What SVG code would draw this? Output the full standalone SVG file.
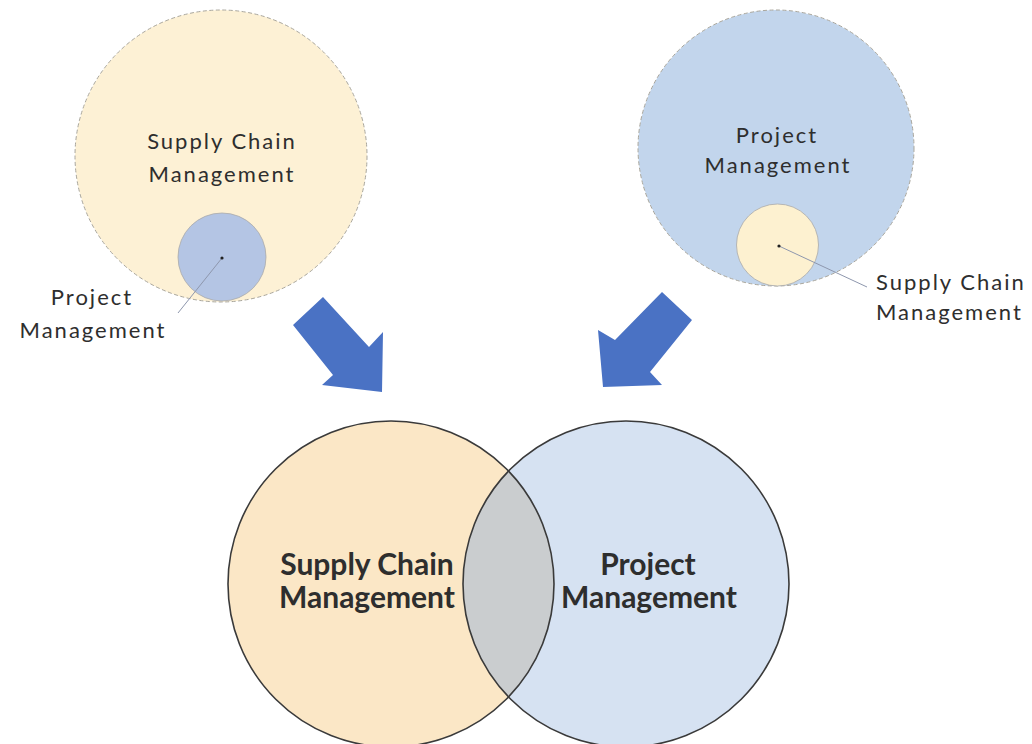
<svg xmlns="http://www.w3.org/2000/svg" width="1032" height="744" viewBox="0 0 1032 744">
  <style>
    .lbl { font-family: "Lato", "Open Sans", "Liberation Sans", sans-serif; fill: #2e2e2e; }
    .sm { font-size: 22px; letter-spacing: 2px; }
    .big { font-size: 30px; font-weight: 700; }
    .mid { text-anchor: middle; }
    .outer { stroke: #a9a69c; stroke-width: 1; stroke-dasharray: 4 2.5; }
    .inner { stroke: #a9a9a9; stroke-width: 0.8; }
    .venn { stroke: #3a3a3a; stroke-width: 1.6; }
    .leader { stroke: #8e97ad; stroke-width: 1; fill: none; }
    .dot { fill: #222; }
    .block { fill: #4a72c4; }
  </style>

  <rect width="1032" height="744" fill="#ffffff"/>

  <!-- Supply chain circle containing project management -->
  <g id="scm-contains-pm">
    <circle cx="221" cy="156" r="146" fill="#fdf1d5" class="outer"/>
    <text class="lbl sm mid" x="222" y="149">Supply Chain</text>
    <text class="lbl sm mid" x="222" y="182">Management</text>
  </g>
  <g id="pm-inner">
    <circle cx="222" cy="257" r="44" fill="#b4c5e4" class="inner"/>
  </g>
  <g id="pm-inner-label">
    <text class="lbl sm mid" x="92" y="305">Project</text>
    <text class="lbl sm mid" x="93" y="338">Management</text>
  </g>

  <!-- Project management circle containing supply chain -->
  <g id="pm-contains-scm">
    <circle cx="776" cy="148" r="138" fill="#c2d5ec" class="outer"/>
    <text class="lbl sm mid" x="777" y="143">Project</text>
    <text class="lbl sm mid" x="778" y="173">Management</text>
  </g>
  <g id="scm-inner">
    <circle cx="777.5" cy="245" r="41" fill="#fdf1d0" class="inner"/>
  </g>
  <g id="scm-inner-label">
    <text class="lbl sm" x="876" y="290">Supply Chain</text>
    <text class="lbl sm" x="876" y="320">Management</text>
  </g>

  <!-- Overlapping result -->
  <g id="venn">
    <defs>
      <clipPath id="clip-left">
        <circle cx="391" cy="584" r="163"/>
      </clipPath>
    </defs>
    <circle cx="391" cy="584" r="163" fill="#fbe7c6"/>
    <circle cx="626" cy="584" r="163" fill="#d6e2f2"/>
    <circle cx="626" cy="584" r="163" fill="#cacdcf" clip-path="url(#clip-left)"/>
    <circle cx="391" cy="584" r="163" fill="none" class="venn"/>
    <circle cx="626" cy="584" r="163" fill="none" class="venn"/>
  </g>
  <g id="venn-scm">
    <text class="lbl big mid" x="367" y="575">Supply Chain</text>
    <text class="lbl big mid" x="367" y="608">Management</text>
  </g>
  <g id="venn-pm">
    <text class="lbl big mid" x="648" y="575">Project</text>
    <text class="lbl big mid" x="649" y="608">Management</text>
  </g>

  <!-- Leader lines and block arrows -->
  <g id="connectors">
    <line class="leader" x1="222" y1="258" x2="178" y2="313"/>
    <circle class="dot" cx="222" cy="258" r="1.6"/>
    <line class="leader" x1="779" y1="246" x2="867" y2="287" stroke="#9a9a9a"/>
    <circle class="dot" cx="779" cy="246" r="1.6"/>
    <polygon class="block" points="323,297 369,347 383,332 382,392 322,385 333,375 293,325"/>
    <polygon class="block" points="662,292 692,320 650,372 662,385 603,387 598,330 615,340"/>
  </g>
</svg>
